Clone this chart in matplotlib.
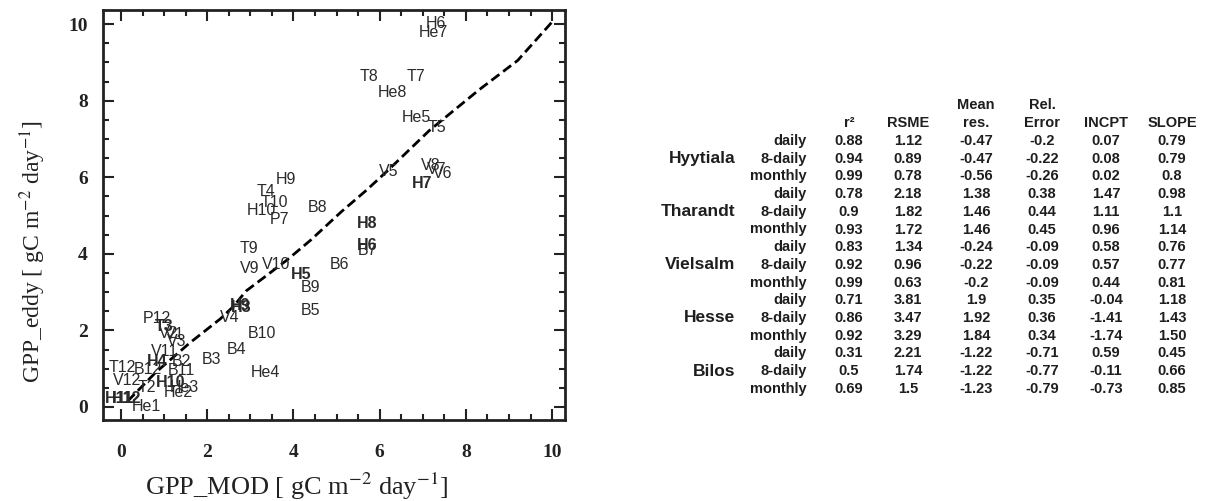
import matplotlib
matplotlib.use("Agg")
import matplotlib.pyplot as plt
from matplotlib.ticker import MultipleLocator

plt.rcParams['mathtext.fontset'] = 'stix'

# ---- scatter: site/month labels placed at (GPP_MOD, GPP_eddy) ----
point_labels = ['H6', 'He7', 'T8', 'T7', 'He8', 'He5', 'T5', 'V5', 'V8', 'V7', 'V6', 'H7',
                'H9', 'T4', 'T10', 'H10', 'P7', 'B8', 'H8', 'H6', 'B7', 'B6',
                'T9', 'V9', 'V10', 'H5', 'B9', 'B5', 'H9', 'H3', 'V4',
                'P12', 'T3', 'V2', 'V1', 'B10', 'V3', 'B4', 'B3', 'V11', 'H4', 'B2',
                'T12', 'B12', 'B11', 'He4', 'V12', 'T2', 'H10', 'He3', 'He2',
                'H11', 'H12', 'He1']
gpp_mod = [7.31, 7.24, 5.75, 6.84, 6.29, 6.84, 7.33, 6.22, 7.19, 7.32, 7.45, 6.98,
           3.83, 3.36, 3.55, 3.25, 3.67, 4.55, 5.71, 5.71, 5.71, 5.06,
           2.97, 2.99, 3.60, 4.18, 4.39, 4.39, 2.76, 2.78, 2.53,
           0.84, 1.00, 1.10, 1.24, 3.27, 1.30, 2.69, 2.09, 1.00, 0.84, 1.41,
           0.02, 0.62, 1.41, 3.36, 0.14, 0.60, 1.16, 1.46, 1.32,
           -0.05, 0.12, 0.58]
gpp_eddy = [10.03, 9.77, 8.62, 8.62, 8.22, 7.57, 7.31, 6.16, 6.32, 6.20, 6.11, 5.85,
            5.93, 5.63, 5.35, 5.12, 4.91, 5.22, 4.78, 4.23, 4.10, 3.73,
            4.15, 3.63, 3.73, 3.47, 3.13, 2.51, 2.66, 2.60, 2.35,
            2.30, 2.11, 1.93, 1.90, 1.93, 1.70, 1.51, 1.25, 1.46, 1.20, 1.20,
            1.02, 0.99, 0.94, 0.91, 0.70, 0.52, 0.65, 0.50, 0.37,
            0.23, 0.23, 0.00]
bold_labels = [False, False, False, False, False, False, False, False, False, False, False, True,
               False, False, False, False, False, False, True, True, False, False,
               False, False, False, True, False, False, True, True, False,
               False, True, False, False, False, False, False, False, False, True, False,
               False, False, False, False, False, False, True, False, False,
               True, True, False]

# smoothed fit through the monthly points
fit_x = [0.15, 0.8, 1.6, 2.3, 2.6, 2.9, 3.3, 3.85, 4.4, 5.1, 5.7, 6.2, 7.15, 8.3, 9.2, 10.05]
fit_y = [0.15, 0.90, 1.68, 2.30, 2.62, 3.03, 3.37, 3.84, 4.36, 5.09, 5.67, 6.19, 7.22, 8.28, 9.05, 10.12]

x_ticks = [0, 2, 4, 6, 8, 10]
y_ticks = [0, 2, 4, 6, 8, 10]

# ---- statistics table ----
sites = ['Hyytiala', 'Tharandt', 'Vielsalm', 'Hesse', 'Bilos']
periods = ['daily', '8-daily', 'monthly']
header_top = ['', '', 'Mean', 'Rel.', '', '']
header_bottom = ['r\u00b2', 'RSME', 'res.', 'Error', 'INCPT', 'SLOPE']
r2 = ['0.88', '0.94', '0.99', '0.78', '0.9', '0.93', '0.83', '0.92', '0.99',
      '0.71', '0.86', '0.92', '0.31', '0.5', '0.69']
rsme = ['1.12', '0.89', '0.78', '2.18', '1.82', '1.72', '1.34', '0.96', '0.63',
        '3.81', '3.47', '3.29', '2.21', '1.74', '1.5']
mean_res = ['-0.47', '-0.47', '-0.56', '1.38', '1.46', '1.46', '-0.24', '-0.22', '-0.2',
            '1.9', '1.92', '1.84', '-1.22', '-1.22', '-1.23']
rel_error = ['-0.2', '-0.22', '-0.26', '0.38', '0.44', '0.45', '-0.09', '-0.09', '-0.09',
             '0.35', '0.36', '0.34', '-0.71', '-0.77', '-0.79']
incpt = ['0.07', '0.08', '0.02', '1.47', '1.11', '0.96', '0.58', '0.57', '0.44',
         '-0.04', '-1.41', '-1.74', '0.59', '-0.11', '-0.73']
slope = ['0.79', '0.79', '0.8', '0.98', '1.1', '1.14', '0.76', '0.77', '0.81',
         '1.18', '1.43', '1.50', '0.45', '0.66', '0.85']

W, H = 1213, 501
fig = plt.figure(figsize=(W / 100, H / 100), dpi=100)


def fx(px):
    return px / W


def fy(py):
    return 1 - py / H


ax = fig.add_axes([fx(103), fy(420), fx(565) - fx(103), fy(10) - fy(420)])
ax.set_xlim(-0.42, 10.3)
ax.set_ylim(-0.34, 10.37)

ax.plot(fit_x, fit_y, color='black', lw=2.0, ls=(0, (3.6, 1.7)))

for lab, x, y, b in zip(point_labels, gpp_mod, gpp_eddy, bold_labels):
    ax.text(x, y, lab, ha='center', va='center', fontsize=11.5,
            family='Liberation Sans', fontweight='bold' if b else 'normal',
            color='#2a2a2a')

ax.set_xticks(x_ticks)
ax.set_yticks(y_ticks)
ax.xaxis.set_minor_locator(MultipleLocator(0.5))
ax.yaxis.set_minor_locator(MultipleLocator(0.5))
ax.tick_params(which='both', direction='in', top=True, right=True, width=1.5, color='#222222')
ax.tick_params(which='major', length=8)
ax.tick_params(which='minor', length=4)
ax.tick_params(axis='x', which='major', pad=17)
ax.tick_params(axis='y', which='major', pad=11)
for lbl in ax.get_xticklabels() + ax.get_yticklabels():
    lbl.set_family('Liberation Serif')
    lbl.set_fontweight('bold')
    lbl.set_fontsize(14)
    lbl.set_color('#222222')
for sp in ax.spines.values():
    sp.set_linewidth(2.0)
    sp.set_color('#222222')

ax.set_xlabel('GPP_MOD [ gC m$^{-2}$ day$^{-1}$]', family='Liberation Serif',
              fontsize=19, color='#222222')
ax.set_ylabel('GPP_eddy [ gC m$^{-2}$ day$^{-1}$]', family='Liberation Serif',
              fontsize=17, color='#222222')
ax.xaxis.set_label_coords(0.42, -0.125)
ax.yaxis.set_label_coords(-0.119, 0.41)

# table layout (pixel positions)
col_x = [849, 908, 976, 1042, 1106, 1172]
period_right = 807
site_right = 735
row0_y = 141
row_dy = 17.7
head_top_y = 105
head_bot_y = 123
tcolor = '#1e1e1e'
tkw = dict(family='Liberation Sans', fontweight='bold', color=tcolor, va='center')

for cx, t in zip(col_x, header_top):
    if t:
        fig.text(fx(cx), fy(head_top_y), t, ha='center', fontsize=10.5, **tkw)
for cx, t in zip(col_x, header_bottom):
    fig.text(fx(cx), fy(head_bot_y), t, ha='center', fontsize=10.5, **tkw)

columns = [r2, rsme, mean_res, rel_error, incpt, slope]
for i in range(len(sites) * len(periods)):
    y = row0_y + i * row_dy
    fig.text(fx(period_right), fy(y), periods[i % 3], ha='right', fontsize=10.5, **tkw)
    for cx, col in zip(col_x, columns):
        fig.text(fx(cx), fy(y), col[i], ha='center', fontsize=10.5, **tkw)
for s, site in enumerate(sites):
    y = row0_y + (3 * s + 1) * row_dy
    fig.text(fx(site_right), fy(y), site, ha='right', fontsize=12.5, **tkw)

fig.savefig('out.png', dpi=100)
